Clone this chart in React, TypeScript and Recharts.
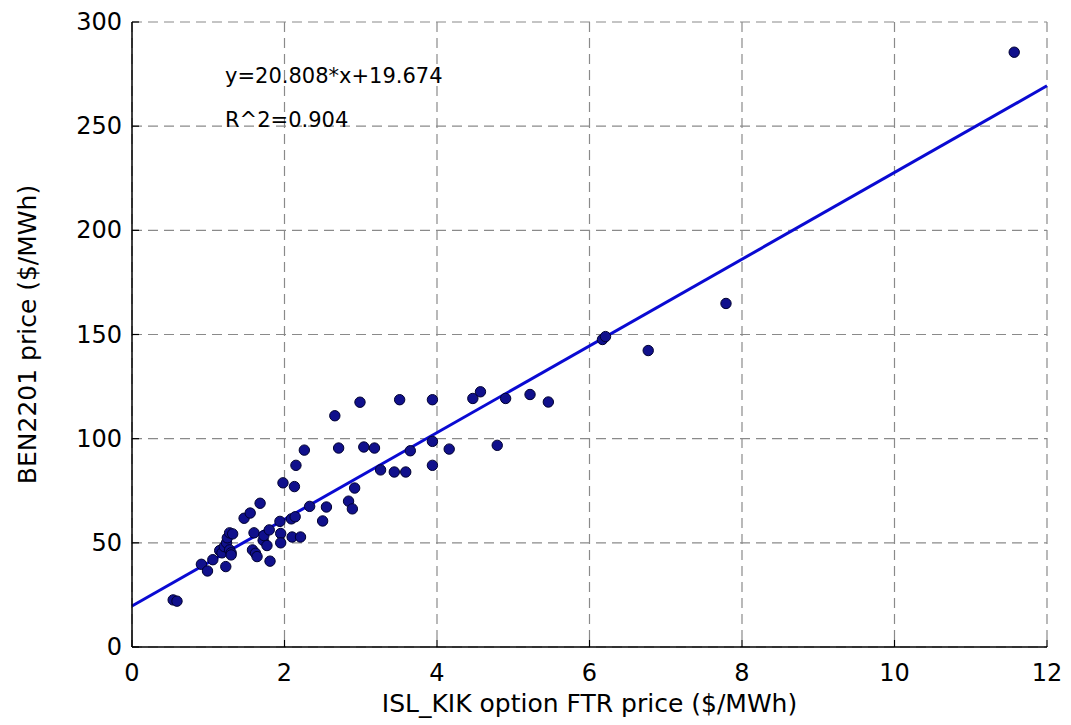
import {
  CartesianGrid,
  ComposedChart,
  Line,
  Scatter,
  XAxis,
  YAxis,
} from 'recharts'

// ISL_KIK option FTR price vs BEN2201 price
const ftrPrice = [
  0.54, 0.59, 0.91, 0.99, 1.06, 1.15, 1.18, 1.23, 1.21, 1.24,
  1.25, 1.28, 1.32, 1.28, 1.30, 1.30, 1.47, 1.55, 1.68, 1.60,
  1.58, 1.62, 1.64, 1.72, 1.73, 1.77, 1.81, 1.80, 1.94, 1.95,
  1.95, 1.98, 2.09, 2.14, 2.13, 2.15, 2.10, 2.21, 2.26, 2.33,
  2.50, 2.55, 2.66, 2.71, 2.84, 2.89, 2.92, 2.99, 3.04, 3.18,
  3.26, 3.44, 3.59, 3.65, 3.51, 3.94, 3.94, 3.94, 4.16, 4.47,
  4.57, 4.79, 4.90, 5.22, 5.46, 6.17, 6.21, 6.77, 7.79, 11.57,
]
const benPrice = [
  22.6, 22.0, 39.7, 36.5, 41.9, 46.3, 45.2, 38.6, 48.2, 50.0,
  52.4, 54.8, 54.3, 46.6, 45.2, 44.2, 61.8, 64.3, 69.0, 54.8,
  46.6, 45.0, 43.4, 51.2, 53.5, 48.7, 41.2, 56.2, 60.3, 54.5,
  50.0, 78.8, 61.5, 62.5, 77.0, 87.2, 52.8, 52.8, 94.5, 67.5,
  60.5, 67.2, 111.0, 95.5, 70.0, 66.3, 76.3, 117.5, 96.0, 95.5,
  85.0, 84.0, 84.0, 94.2, 118.7, 87.2, 98.7, 118.7, 95.0, 119.3,
  122.5, 96.8, 119.3, 121.2, 117.6, 147.6, 149.0, 142.3, 164.9, 285.5,
]

// least-squares fit shown in the plot
const fitX = [0, 12]
const fitY = [19.674, 269.37]
const fitEquation = 'y=20.808*x+19.674'
const fitR2 = 'R^2=0.904'

const xTicks = [0, 2, 4, 6, 8, 10, 12]
const yTicks = [0, 50, 100, 150, 200, 250, 300]
const xLabel = 'ISL_KIK option FTR price ($/MWh)'
const yLabel = 'BEN2201 price ($/MWh)'

const FONT = '"DejaVu Sans", sans-serif'
const points = ftrPrice.map((x, i) => ({ x, y: benPrice[i] }))
const fitData = fitX.map((x, i) => ({ x, y: fitY[i] }))

function BottomTick({ x, y, payload }: any) {
  return (
    <g>
      <line x1={x} y1={y} x2={x} y2={y - 7} stroke="#000" strokeWidth={1.2} />
      <text x={x} y={y + 34} textAnchor="middle" fontSize={24} fontFamily={FONT} fill="#000">
        {payload.value}
      </text>
    </g>
  )
}

function LeftTick({ x, y, payload }: any) {
  return (
    <g>
      <line x1={x} y1={y} x2={x + 7} y2={y} stroke="#000" strokeWidth={1.2} />
      <text x={x - 10} y={y + 8} textAnchor="end" fontSize={24} fontFamily={FONT} fill="#000">
        {payload.value}
      </text>
    </g>
  )
}

function TopTick({ x, y }: any) {
  return <line x1={x} y1={y} x2={x} y2={y + 7} stroke="#000" strokeWidth={1.2} />
}

function RightTick({ x, y }: any) {
  return <line x1={x} y1={y} x2={x - 7} y2={y} stroke="#000" strokeWidth={1.2} />
}

function Dot({ cx, cy }: any) {
  return <circle cx={cx} cy={cy} r={5.2} fill="#10108c" stroke="#000030" strokeWidth={1} />
}

export default function App() {
  const frame = { stroke: '#000', strokeWidth: 1.5 }
  return (
    <div style={{ position: 'relative', width: 1063, height: 717, background: '#fff' }}>
      <ComposedChart
        width={1063}
        height={717}
        margin={{ top: 14, right: 24, bottom: 0, left: 0 }}
        accessibilityLayer={false}
      >
        <CartesianGrid stroke="#8a8a8a" strokeDasharray="10 6" strokeWidth={1.2} />
        <XAxis
          dataKey="x"
          type="number"
          domain={[0, 12]}
          ticks={xTicks}
          interval={0}
          height={78}
          tickSize={0}
          tickMargin={0}
          tickLine={false}
          axisLine={frame}
          tick={<BottomTick />}
          label={{ value: xLabel, position: 'insideBottom', offset: 13, fontSize: 25, fontFamily: FONT, fill: '#000' }}
        />
        <XAxis
          xAxisId="top"
          orientation="top"
          type="number"
          domain={[0, 12]}
          ticks={xTicks}
          interval={0}
          height={0}
          tickSize={0}
          tickMargin={0}
          tickLine={false}
          axisLine={frame}
          tick={<TopTick />}
        />
        <YAxis
          dataKey="y"
          type="number"
          domain={[0, 300]}
          ticks={yTicks}
          interval={0}
          width={124}
          tickSize={0}
          tickMargin={0}
          tickLine={false}
          axisLine={frame}
          tick={<LeftTick />}
          label={{
            value: yLabel,
            angle: -90,
            position: 'insideLeft',
            offset: 19,
            fontSize: 25,
            fontFamily: FONT,
            fill: '#000',
            style: { textAnchor: 'middle' },
          }}
        />
        <YAxis
          yAxisId="right"
          orientation="right"
          type="number"
          domain={[0, 300]}
          ticks={yTicks}
          interval={0}
          width={0}
          tickSize={0}
          tickMargin={0}
          tickLine={false}
          axisLine={frame}
          tick={<RightTick />}
        />
        <Line
          data={fitData}
          dataKey="y"
          type="linear"
          stroke="#0a0ad2"
          strokeWidth={3}
          dot={false}
          activeDot={false}
          isAnimationActive={false}
        />
        <Scatter data={points} shape={<Dot />} isAnimationActive={false} />
      </ComposedChart>
      <div style={{ position: 'absolute', left: 217, top: 58, fontFamily: FONT, fontSize: 21, lineHeight: 1, whiteSpace: 'nowrap' }}>
        {fitEquation}
      </div>
      <div style={{ position: 'absolute', left: 217, top: 102, fontFamily: FONT, fontSize: 21, lineHeight: 1, whiteSpace: 'nowrap' }}>
        {fitR2}
      </div>
    </div>
  )
}
